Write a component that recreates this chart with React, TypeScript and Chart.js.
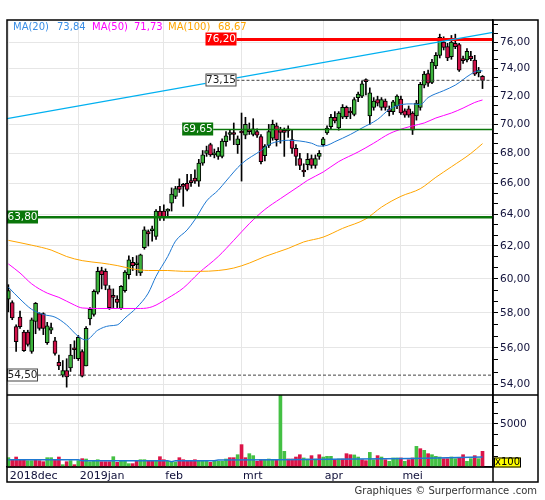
import React, { useEffect, useRef } from 'react';
import { Chart, registerables } from 'chart.js';

Chart.register(...registerables);

// ---------- data (trading-day index 0 = first session of Dec 2018) ----------
const monthTicks = [0, 18, 40, 60, 81, 101];
const monthLabels = ['2018dec', '2019jan', 'feb', 'mrt', 'apr', 'mei'];

const opens = [
  58.8, 58.6, 57.2, 57.75, 56.9, 56.9, 55.8, 57.5, 57.95, 57.95,
  56.3, 57.0, 56.4, 55.2, 54.5, 54.75, 54.9, 56.0, 55.4, 55.8,
  55.0, 57.65, 57.9, 59.2, 60.5, 60.45, 59.4, 58.95, 58.8, 58.25,
  59.3, 60.25, 61.0, 60.85, 60.35, 61.9, 62.9, 62.95, 62.6, 64.2,
  64.2, 64.2, 64.7, 65.15, 65.8, 65.9, 66.0, 66.1, 66.35, 66.15,
  67.35, 68.0, 68.6, 67.9, 67.8, 67.8, 68.8, 69.3, 69.35, 68.6,
  69.5, 69.25, 69.55, 69.3, 69.5, 69.15, 67.85, 68.55, 69.05, 69.9,
  69.65, 69.5, 69.6, 68.95, 68.35, 67.65, 66.8, 67.25, 67.65, 67.2,
  67.8, 68.6, 69.4, 69.85, 70.5, 69.75, 70.5, 71.2, 70.85, 70.7,
  71.9, 72.0, 73.15, 70.6, 71.2, 71.75, 71.2, 71.65, 71.0, 70.9,
  71.3, 71.8, 70.95, 71.1, 70.8, 70.6, 71.2, 72.8, 73.65, 73.0,
  74.2, 75.0, 76.0, 75.65, 74.9, 75.9, 75.8, 74.7, 74.65, 74.95,
  74.65, 73.7, 73.45,
];
const highs = [
  59.65, 58.7, 57.3, 58.1, 57.0, 57.0, 57.7, 58.6, 58.0, 58.0,
  57.45, 57.4, 56.6, 55.6, 55.3, 55.4, 56.2, 56.4, 56.7, 55.9,
  57.2, 58.3, 59.35, 60.7, 60.7, 60.6, 59.6, 59.4, 59.0, 59.6,
  60.5, 61.4, 61.3, 61.4, 61.5, 63.2, 63.0, 63.25, 64.3, 64.5,
  64.6, 64.35, 65.7, 65.8, 66.3, 66.0, 66.6, 66.6, 66.9, 67.6,
  68.2, 68.5, 68.7, 68.3, 68.4, 69.0, 69.5, 69.65, 70.1, 69.2,
  70.8, 70.5, 70.1, 70.4, 69.7, 69.3, 68.6, 70.0, 70.3, 70.1,
  69.8, 69.75, 69.9, 69.6, 68.6, 68.0, 67.3, 68.0, 67.9, 67.9,
  68.2, 69.1, 69.9, 70.7, 70.9, 70.9, 71.4, 71.3, 71.2, 71.9,
  72.3, 73.1, 73.25, 72.6, 71.9, 72.0, 71.9, 71.8, 71.3, 71.7,
  72.1, 72.0, 71.1, 71.3, 70.9, 71.7, 73.0, 73.8, 73.9, 74.7,
  75.2, 76.6, 76.4, 75.9, 76.5, 76.6, 75.9, 74.95, 75.5, 75.3,
  75.0, 74.1, 73.5,
];
const lows = [
  58.05, 57.6, 55.8, 57.1, 55.8, 56.1, 55.7, 56.8, 57.0, 56.75,
  56.2, 56.8, 55.6, 54.8, 54.4, 53.85, 54.7, 55.4, 55.3, 54.4,
  55.0, 57.3, 57.8, 59.1, 59.4, 59.35, 58.2, 58.3, 58.3, 58.2,
  59.2, 60.0, 60.5, 60.2, 60.2, 61.8, 62.0, 62.3, 62.4, 63.6,
  63.6, 63.9, 64.2, 65.0, 65.4, 64.5, 65.5, 65.8, 66.0, 65.8,
  67.2, 67.8, 67.8, 67.7, 67.6, 67.7, 68.5, 68.9, 68.6, 68.0,
  66.15, 69.0, 69.3, 69.2, 69.1, 67.3, 67.5, 68.4, 68.9, 68.5,
  68.7, 67.8, 69.1, 68.0, 67.2, 66.9, 66.45, 66.9, 67.0, 67.0,
  67.6, 68.5, 69.3, 69.7, 70.1, 69.6, 70.4, 70.4, 70.4, 70.6,
  71.6, 71.9, 72.1, 70.0, 71.0, 71.3, 71.0, 71.0, 70.6, 70.7,
  71.1, 70.7, 70.5, 70.5, 69.3, 70.3, 71.0, 72.6, 72.7, 72.9,
  74.0, 74.8, 75.4, 74.6, 74.7, 75.5, 73.8, 74.4, 74.5, 74.6,
  73.5, 73.4, 72.55,
];
const closes = [
  59.3, 57.7, 56.35, 57.2, 55.85, 56.2, 57.6, 58.55, 57.1, 57.1,
  57.25, 57.15, 55.7, 55.0, 54.75, 54.4, 55.6, 55.9, 56.6, 54.45,
  57.1, 58.2, 59.25, 60.45, 60.25, 59.6, 58.3, 58.9, 58.6, 59.55,
  60.4, 61.15, 60.8, 60.95, 61.45, 63.0, 62.75, 63.05, 64.2, 63.8,
  63.8, 64.25, 65.3, 65.65, 65.6, 65.8, 65.6, 66.05, 66.15, 67.35,
  67.9, 68.2, 67.9, 68.05, 68.15, 68.85, 69.2, 69.35, 69.3, 69.0,
  69.4, 70.0, 69.5, 69.7, 69.25, 67.45, 68.5, 69.5, 70.0, 68.95,
  69.45, 69.45, 69.55, 68.35, 67.8, 67.2, 66.75, 67.6, 67.2, 67.65,
  68.0, 69.0, 69.75, 70.5, 70.25, 70.8, 71.2, 70.55, 70.8, 71.75,
  72.15, 72.9, 73.05, 72.25, 71.65, 71.5, 71.75, 71.2, 70.9, 71.6,
  72.0, 70.8, 70.65, 70.65, 69.6, 71.5, 72.85, 73.6, 72.95, 74.5,
  75.0, 76.35, 75.6, 74.8, 76.0, 75.65, 73.9, 74.6, 75.3, 74.75,
  73.6, 73.9, 73.15,
];

// volume in units of 100 shares
const volumes = [
  1085, 850, 1160, 850, 850, 740, 740, 850, 740, 620,
  1085, 1085, 850, 1160, 270, 620, 740, 270, 740, 970,
  930, 620, 740, 850, 620, 620, 620, 1200, 540, 660,
  660, 390, 390, 660, 850, 850, 660, 660, 660, 1200,
  850, 660, 660, 580, 1085, 850, 660, 660, 850, 660,
  660, 660, 540, 660, 660, 660, 930, 1085, 1085, 1430,
  2600, 1085, 1550, 1320, 660, 850, 850, 930, 850, 850,
  8400, 1820, 930, 930, 1160, 1430, 1050, 930, 1320, 930,
  1430, 1160, 1240, 1240, 775, 930, 930, 1550, 1430, 1400,
  1160, 850, 740, 1700, 850, 1320, 1160, 850, 660, 1050,
  1050, 1050, 660, 850, 1050, 2400, 2130, 1940, 1550, 1430,
  1240, 1160, 970, 970, 1160, 970, 1050, 1430, 660, 970,
  1320, 970, 1820,
];
const volumeUp = [
  1, 0, 0, 0, 0, 1, 1, 0, 0, 0, 1, 1, 0, 0, 1, 0, 1, 0, 1, 0,
  1, 1, 1, 1, 0, 0, 0, 1, 0, 1, 1, 1, 0, 0, 1, 1, 0, 0, 1, 0,
  0, 1, 1, 1, 0, 0, 0, 0, 0, 1, 1, 1, 0, 1, 1, 1, 1, 0, 0, 1,
  0, 0, 1, 1, 0, 0, 1, 1, 1, 0, 1, 1, 0, 0, 0, 0, 1, 1, 0, 1,
  0, 1, 1, 1, 0, 1, 0, 0, 0, 1, 1, 0, 0, 1, 1, 0, 1, 0, 1, 1,
  1, 0, 1, 0, 0, 1, 0, 1, 0, 1, 1, 1, 0, 0, 1, 1, 0, 0, 1, 1,
  0, 1, 0,
];
const volAvgIdx = [0, 18, 19, 41, 42, 43, 53, 54, 70, 90, 104, 122];
const volAvgVal = [853, 853, 740, 740, 620, 740, 740, 810, 850, 930, 1000, 1150];

const ma20Idx = [0, 3, 6, 9, 12, 15, 18, 20, 23, 26, 28, 30, 33, 36, 38, 41, 43, 46, 48, 51, 54, 56, 60, 65, 67, 70, 72, 75, 78, 80, 82, 84, 88, 91, 95, 98, 101, 104, 106, 108, 112, 115, 119, 121, 122];
const ma20Val = [59.5, 58.8, 58.2, 57.9, 57.75, 57.3, 56.65, 56.45, 57.0, 57.25, 57.3, 57.7, 58.3, 59.15, 60.15, 61.35, 62.3, 63.0, 63.65, 64.85, 65.55, 66.15, 67.3, 68.2, 68.6, 68.85, 68.9, 68.85, 68.7, 68.5, 68.55, 68.8, 69.3, 69.75, 70.35, 71.05, 71.4, 71.45, 71.4, 71.9, 72.4, 72.8, 73.6, 73.85, 73.84];
const ma50Idx = [0, 3, 6, 10, 13, 17, 19, 23, 28, 34, 37, 41, 45, 49, 54, 58, 62, 66, 70, 75, 77, 81, 85, 90, 94, 98, 102, 104, 107, 110, 114, 117, 120, 122];
const ma50Val = [60.9, 60.35, 59.7, 59.15, 58.9, 58.45, 58.28, 58.25, 58.25, 58.25, 58.35, 58.85, 59.45, 60.35, 61.35, 62.35, 63.4, 64.3, 65.0, 65.85, 66.2, 66.75, 67.45, 68.1, 68.7, 69.35, 69.75, 69.9, 70.1, 70.45, 70.8, 71.15, 71.55, 71.73];
const ma100Idx = [0, 6, 11, 15, 19, 24, 28, 32, 36, 41, 45, 49, 54, 58, 62, 66, 72, 76, 81, 86, 92, 96, 101, 106, 110, 114, 119, 122];
const ma100Val = [62.35, 62.05, 61.75, 61.35, 61.1, 60.95, 60.8, 60.6, 60.5, 60.5, 60.45, 60.45, 60.5, 60.65, 60.95, 61.35, 61.85, 62.25, 62.55, 63.1, 63.7, 64.45, 65.15, 65.65, 66.4, 67.1, 68.0, 68.67];

const trendIdx = [-0.35, 124.7];
const trendVal = [70.4, 76.74];

const levelValues = [76.2, 73.15, 69.65, 63.8, 54.5];
const priceMajorTicks = [54, 56, 58, 60, 62, 64, 66, 68, 70, 72, 74, 76];
const volumeTickLabels = [5000];

// ---------- layout / style constants ----------
const X_MIN = -0.35;
const X_MAX = 124.7;
const P_MIN = 53.43;
const P_MAX = 77.69;
const V_MAX = 8372;
const FONT = '"DejaVu Sans", Verdana, sans-serif';
const UP = '#3cb43c';
const DOWN = '#d1124a';
const GRID = '#e6e6e6';
const TICK_TEXT = '#10103a';

const levelStyles = [
  { start: 58.7, line: '#ff0000', width: 3, dash: [] as number[], fill: '#ff0000', border: '', text: '#ffffff' },
  { start: 58.7, line: '#444444', width: 1, dash: [3, 2], fill: '#ffffff', border: '#444444', text: '#222222' },
  { start: 52.7, line: '#0a760a', width: 1.5, dash: [] as number[], fill: '#0a760a', border: '', text: '#ffffff' },
  { start: 7.63, line: '#0a760a', width: 2.5, dash: [] as number[], fill: '#0a760a', border: '', text: '#ffffff' },
  { start: 7.63, line: '#444444', width: 1, dash: [3, 2], fill: '#ffffff', border: '#444444', text: '#222222' },
];

const legendItems = [
  { name: 'MA(20)', vals: ma20Val, color: '#3a8ee6', nameX: 13, valX: 57 },
  { name: 'MA(50)', vals: ma50Val, color: '#ff00ff', nameX: 92, valX: 134 },
  { name: 'MA(100)', vals: ma100Val, color: '#ffa500', nameX: 168, valX: 218 },
];

const fmt = (v: number) => v.toFixed(2).replace('.', ',');

const isMajorPrice = (v: number) => priceMajorTicks.some((t) => Math.abs(t - v) < 1e-6);

const overlayPlugin = {
  id: 'overlay',
  afterDraw(chart: any) {
    const { ctx, chartArea } = chart;
    const xs = chart.scales.x;
    const ys = chart.scales.y;
    ctx.save();
    // level labels
    levelStyles.forEach((s, k) => {
      const v = levelValues[k];
      const py = Math.round(ys.getPixelForValue(v));
      const right = xs.getPixelForValue(s.start);
      const w = 31;
      const h = 13;
      const left = Math.max(chartArea.left, right - w);
      ctx.fillStyle = s.fill;
      ctx.fillRect(left, py - h / 2, right - left, h);
      if (s.border) {
        ctx.strokeStyle = s.border;
        ctx.lineWidth = 1;
        ctx.strokeRect(left + 0.5, py - h / 2 + 0.5, right - left - 1, h - 1);
      }
      ctx.fillStyle = s.text;
      ctx.font = '10.5px ' + FONT;
      ctx.textAlign = 'center';
      ctx.textBaseline = 'middle';
      ctx.fillText(fmt(v), (left + right) / 2, py + 0.5);
    });
    // frame
    ctx.strokeStyle = '#000';
    ctx.lineWidth = 1.5;
    ctx.strokeRect(7, 20, 538 - 7, 482 - 20);
    ctx.beginPath();
    ctx.moveTo(chartArea.right, 20);
    ctx.lineTo(chartArea.right, 482);
    ctx.moveTo(7, ys.bottom);
    ctx.lineTo(538, ys.bottom);
    ctx.moveTo(7, chartArea.bottom);
    ctx.lineTo(chartArea.right, chartArea.bottom);
    ctx.stroke();
    // x100 box
    const bx = chartArea.right + 1;
    const by = chartArea.bottom - 9.5;
    ctx.fillStyle = '#ffff00';
    ctx.fillRect(bx, by, 27, 10);
    ctx.lineWidth = 1;
    ctx.strokeRect(bx + 0.5, by + 0.5, 26, 9);
    ctx.fillStyle = '#000';
    ctx.font = '10px ' + FONT;
    ctx.textAlign = 'center';
    ctx.textBaseline = 'middle';
    ctx.fillText('x100', bx + 13.5, by + 5);
    ctx.restore();
  },
};

export default function App() {
  const ref = useRef<HTMLCanvasElement>(null);

  useEffect(() => {
    document.body.style.margin = '0';
    const canvas = ref.current;
    if (!canvas) return;
    const idx = closes.map((_, i) => i);

    const wickData = idx.map((i) => ({ x: i, y: [lows[i], highs[i]] }));
    const bodyData = idx.map((i) => ({ x: i, y: [Math.min(opens[i], closes[i]), Math.max(opens[i], closes[i])] }));
    const bodyColors = idx.map((i) => (closes[i] >= opens[i] ? UP : DOWN));
    const volData = idx.map((i) => ({ x: i, y: volumes[i] }));
    const volColors = idx.map((i) => (volumeUp[i] ? '#44c044' : '#dc1448'));
    const pts = (xs: number[], ys: number[]) => xs.map((x, k) => ({ x, y: ys[k] }));

    const lineDs = (data: any[], color: string, width: number, order: number, extra: any = {}) => ({
      type: 'line' as const,
      data,
      borderColor: color,
      borderWidth: width,
      pointRadius: 0,
      fill: false,
      yAxisID: 'y',
      order,
      ...extra,
    });

    const levelDatasets = levelStyles.map((s, k) =>
      lineDs(
        [
          { x: s.start, y: levelValues[k] },
          { x: X_MAX, y: levelValues[k] },
        ],
        s.line,
        s.width,
        4,
        { borderDash: s.dash }
      )
    );

    const priceMinor: number[] = [];
    priceMajorTicks.forEach((t) => {
      priceMinor.push(t, t + 2 / 3, t + 4 / 3);
    });

    Chart.defaults.font.family = FONT;
    Chart.defaults.font.size = 10;

    const chart = new Chart(canvas, {
      type: 'bar',
      data: {
        datasets: [
          {
            type: 'bar',
            data: volData as any,
            backgroundColor: volColors,
            barThickness: 3,
            grouped: false,
            yAxisID: 'yv',
            order: 20,
          },
          lineDs(pts(volAvgIdx, volAvgVal), '#1e78d2', 1.5, 1, { yAxisID: 'yv' }),
          {
            type: 'bar',
            data: wickData as any,
            backgroundColor: '#000',
            barThickness: 1,
            minBarLength: 1,
            grouped: false,
            yAxisID: 'y',
            order: 12,
          },
          {
            type: 'bar',
            data: bodyData as any,
            backgroundColor: bodyColors,
            borderColor: '#000',
            borderWidth: 1,
            borderSkipped: false,
            barThickness: 4,
            minBarLength: 2,
            grouped: false,
            yAxisID: 'y',
            order: 11,
          },
          lineDs(pts(ma100Idx, ma100Val), '#ffa500', 1, 5, { cubicInterpolationMode: 'monotone' }),
          lineDs(pts(ma50Idx, ma50Val), '#ff00ff', 1, 5, { cubicInterpolationMode: 'monotone' }),
          lineDs(pts(ma20Idx, ma20Val), '#1e78d2', 1, 5, { cubicInterpolationMode: 'monotone' }),
          lineDs(pts(trendIdx, trendVal), '#00b0f0', 1.2, 3),
          ...levelDatasets,
        ] as any,
      },
      options: {
        animation: false,
        responsive: false,
        devicePixelRatio: 1,
        events: [],
        layout: { padding: { left: 7, top: 20, right: 0, bottom: 0 } },
        plugins: { legend: { display: false }, tooltip: { enabled: false } },
        scales: {
          x: {
            type: 'linear',
            min: X_MIN,
            max: X_MAX,
            offset: false,
            grid: { color: GRID, offset: false, drawTicks: false },
            border: { display: true, color: '#000', width: 1.5 },
            ticks: {
              autoSkip: false,
              maxRotation: 0,
              align: 'start',
              padding: 3,
              labelOffset: 1.5,
              color: TICK_TEXT,
              font: { size: 11, family: FONT },
              callback: (v: any) => {
                const k = monthTicks.indexOf(Number(v));
                return k >= 0 ? monthLabels[k] : '';
              },
            },
            afterBuildTicks: (s: any) => {
              s.ticks = monthTicks.map((v) => ({ value: v }));
            },
            afterFit: (s: any) => {
              s.height = 33;
            },
          },
          y: {
            type: 'logarithmic',
            position: 'right',
            stack: 'panels',
            stackWeight: 375,
            min: P_MIN,
            max: P_MAX,
            grid: {
              color: (c: any) => (c.tick && isMajorPrice(c.tick.value) ? GRID : 'rgba(0,0,0,0)'),
              tickColor: '#000',
              tickLength: 5,
            },
            border: { display: true, color: '#000', width: 1.5 },
            ticks: {
              autoSkip: false,
              padding: 2,
              color: TICK_TEXT,
              font: { size: 10.5, family: FONT },
              callback: (v: any) => (isMajorPrice(Number(v)) ? fmt(Number(v)) : ''),
            },
            afterBuildTicks: (s: any) => {
              s.ticks = priceMinor.filter((v) => v >= P_MIN && v <= P_MAX).map((v) => ({ value: v }));
            },
            afterFit: (s: any) => {
              s.width = 52;
            },
          },
          yv: {
            type: 'linear',
            position: 'right',
            stack: 'panels',
            stackWeight: 72,
            min: 0,
            max: V_MAX,
            grid: {
              color: (c: any) => (c.tick && volumeTickLabels.includes(c.tick.value) ? GRID : 'rgba(0,0,0,0)'),
              tickColor: '#000',
              tickLength: 5,
            },
            border: { display: true, color: '#000', width: 1.5 },
            ticks: {
              autoSkip: false,
              padding: 2,
              color: TICK_TEXT,
              font: { size: 10.5, family: FONT },
              callback: (v: any) => (volumeTickLabels.includes(Number(v)) ? String(v) : ''),
            },
            afterBuildTicks: (s: any) => {
              s.ticks = [1250, 2500, 3750, 5000, 6250, 7500].map((v) => ({ value: v }));
            },
            afterFit: (s: any) => {
              s.width = 52;
            },
          },
        },
      } as any,
      plugins: [overlayPlugin],
    });
    return () => chart.destroy();
  }, []);

  const textBase: React.CSSProperties = {
    position: 'absolute',
    fontFamily: FONT,
    fontSize: 10,
    lineHeight: '12px',
    whiteSpace: 'nowrap',
    pointerEvents: 'none',
  };

  return (
    <div style={{ position: 'absolute', left: 0, top: 0, width: 545, height: 500, background: '#fff' }}>
      <canvas ref={ref} width={545} height={500} style={{ display: 'block' }} />
      {legendItems.map((it) => (
        <React.Fragment key={it.name}>
          <span style={{ ...textBase, left: it.nameX, top: 21, color: it.color }}>{it.name}</span>
          <span style={{ ...textBase, left: it.valX, top: 21, color: it.color }}>{fmt(it.vals[it.vals.length - 1])}</span>
        </React.Fragment>
      ))}
      <span style={{ ...textBase, right: 8, top: 485, color: '#333' }}>Graphiques © Surperformance .com</span>
    </div>
  );
}
